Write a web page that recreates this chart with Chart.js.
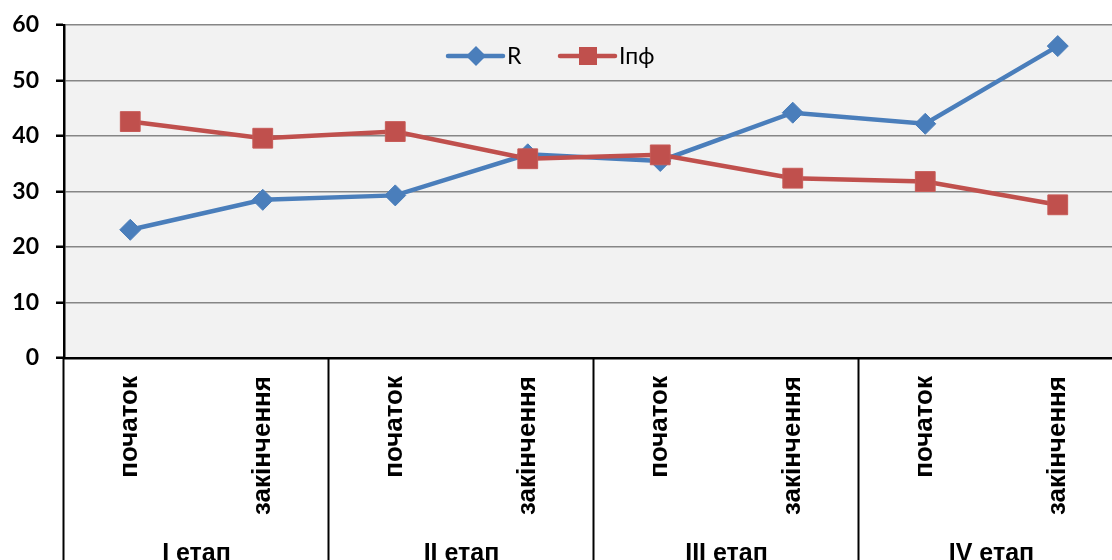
<!DOCTYPE html>
<html>
<head>
<meta charset="utf-8">
<script src="https://cdn.jsdelivr.net/npm/chart.js@4.4.1/dist/chart.umd.min.js"></script>
<style>
  html, body { margin: 0; padding: 0; background: #ffffff; }
  body { width: 1112px; height: 560px; overflow: hidden; }
  canvas { display: block; }
</style>
</head>
<body>
<canvas id="chart" width="1139" height="560"></canvas>
<script>
// Measurement points within each stage
const categories = ['початок', 'закінчення', 'початок', 'закінчення', 'початок', 'закінчення', 'початок', 'закінчення'];
// Stage names, each covering two consecutive categories
const stages = ['I етап', 'II етап', 'III етап', 'IV етап'];
// Series values
const seriesR = [23.1, 28.5, 29.3, 36.7, 35.5, 44.2, 42.2, 56.2];
const seriesIpf = [42.6, 39.6, 40.8, 35.9, 36.6, 32.4, 31.8, 27.6];
// Y-axis ticks
const yTicks = [0, 10, 20, 30, 40, 50, 60];

const BLUE = '#4a7ebb';
const RED = '#c0504d';

// Grey fill behind the plot area
const plotBackground = {
  id: 'plotBackground',
  beforeDraw(chart) {
    const { ctx, chartArea: a } = chart;
    ctx.save();
    ctx.fillStyle = '#f2f2f2';
    ctx.fillRect(a.left, a.top, a.right - a.left, a.bottom - a.top);
    ctx.restore();
  }
};

// Stage separators and stage captions under the category labels
const stageAxis = {
  id: 'stageAxis',
  afterDraw(chart) {
    const { ctx, chartArea: a } = chart;
    const x = chart.scales.x;
    const per = categories.length / stages.length;
    const edge = i => {
      if (i <= 0) return a.left;
      if (i >= categories.length) return a.right;
      return (x.getPixelForValue(i - 1) + x.getPixelForValue(i)) / 2;
    };
    ctx.save();
    ctx.strokeStyle = '#000000';
    ctx.lineWidth = 2;
    for (let s = 0; s <= stages.length; s++) {
      const px = Math.round(edge(s * per)) - 0.5;
      ctx.beginPath();
      ctx.moveTo(px, a.bottom);
      ctx.lineTo(px, chart.height);
      ctx.stroke();
    }
    ctx.fillStyle = '#000000';
    ctx.font = 'bold 25px "Liberation Sans", Arial, sans-serif';
    ctx.textAlign = 'center';
    ctx.textBaseline = 'alphabetic';
    stages.forEach((name, s) => {
      const cx = (edge(s * per) + edge((s + 1) * per)) / 2;
      ctx.fillText(name, cx, 561);
    });
    ctx.restore();
  }
};

// Legend drawn inside the plot: line sample with marker, then series name
const inlineLegend = {
  id: 'inlineLegend',
  afterDatasetsDraw(chart) {
    const { ctx } = chart;
    const y = 56;
    const items = [
      { ds: chart.data.datasets[0], x0: 448 },
      { ds: chart.data.datasets[1], x0: 560 }
    ];
    ctx.save();
    items.forEach(({ ds, x0 }) => {
      ctx.strokeStyle = ds.borderColor;
      ctx.lineWidth = 4.5;
      ctx.lineCap = 'round';
      ctx.beginPath();
      ctx.moveTo(x0, y);
      ctx.lineTo(x0 + 55, y);
      ctx.stroke();
      ctx.fillStyle = ds.pointBackgroundColor;
      const mx = x0 + 28;
      if (ds.pointStyle === 'rectRot') {
        ctx.beginPath();
        ctx.moveTo(mx, y - 10);
        ctx.lineTo(mx + 10, y);
        ctx.lineTo(mx, y + 10);
        ctx.lineTo(mx - 10, y);
        ctx.closePath();
        ctx.fill();
      } else {
        ctx.fillRect(mx - 9, y - 9, 18, 18);
      }
      ctx.fillStyle = '#000000';
      ctx.font = '23px Lato, "Open Sans", sans-serif';
      ctx.textAlign = 'left';
      ctx.textBaseline = 'middle';
      ctx.fillText(ds.label, x0 + 59, y + 1);
    });
    ctx.restore();
  }
};

new Chart(document.getElementById('chart'), {
  type: 'line',
  data: {
    labels: categories,
    datasets: [
      {
        label: 'R',
        data: seriesR,
        borderColor: BLUE,
        backgroundColor: BLUE,
        pointBackgroundColor: BLUE,
        pointBorderColor: BLUE,
        pointStyle: 'rectRot',
        pointRadius: 10.5,
        pointBorderWidth: 1,
        borderWidth: 4.5,
        tension: 0,
        order: 1
      },
      {
        label: 'Іпф',
        data: seriesIpf,
        borderColor: RED,
        backgroundColor: RED,
        pointBackgroundColor: RED,
        pointBorderColor: '#c65a57',
        pointStyle: 'rect',
        pointRadius: 14,
        pointBorderWidth: 1,
        borderWidth: 4.5,
        tension: 0,
        order: 0
      }
    ]
  },
  options: {
    responsive: false,
    animation: false,
    devicePixelRatio: 1,
    layout: { padding: { top: 25, right: 0, left: 0, bottom: 0 } },
    plugins: {
      legend: { display: false },
      tooltip: { enabled: false }
    },
    scales: {
      x: {
        type: 'category',
        offset: true,
        grid: { display: false, drawTicks: false },
        border: { display: true, color: '#000000', width: 2.5 },
        ticks: {
          color: '#000000',
          font: { family: '"Liberation Sans", Arial, sans-serif', size: 26, weight: 'bold' },
          minRotation: 90,
          maxRotation: 90,
          autoSkip: false,
          padding: 18
        },
        afterFit(scale) { scale.height = 202; }
      },
      y: {
        min: 0,
        max: 60,
        afterBuildTicks(scale) { scale.ticks = yTicks.map(v => ({ value: v })); },
        grid: {
          color: '#868686',
          lineWidth: 1.5,
          drawTicks: true,
          tickLength: 8,
          tickColor: '#000000',
          tickWidth: 2.5
        },
        border: { display: true, color: '#000000', width: 2.5 },
        ticks: {
          color: '#000000',
          font: { family: 'Lato, "Open Sans", sans-serif', size: 23, weight: 'bold' },
          padding: 17
        },
        afterFit(scale) {
          scale.width = 64;
          scale.paddingTop = 0;
          scale.paddingBottom = 0;
        }
      }
    }
  },
  plugins: [plotBackground, stageAxis, inlineLegend]
});
</script>
</body>
</html>
